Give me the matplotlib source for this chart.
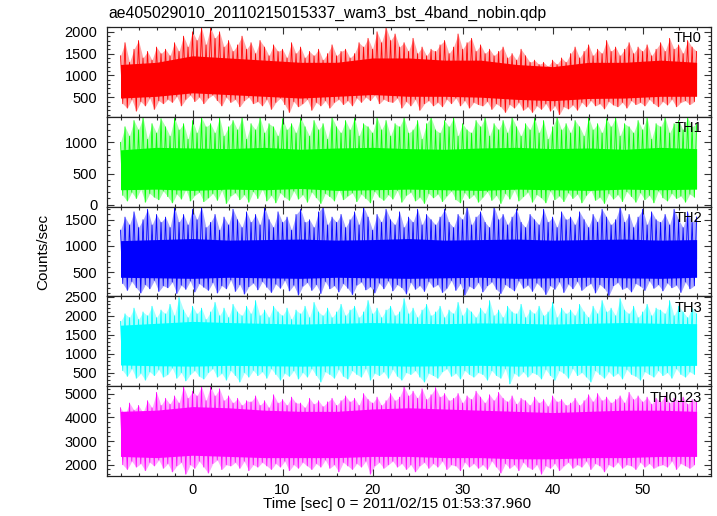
import matplotlib
matplotlib.use("Agg")
import matplotlib.pyplot as plt
import numpy as np
from matplotlib.ticker import MultipleLocator

plt.rcParams['font.family'] = ['Liberation Sans', 'DejaVu Sans']

title = "ae405029010_20110215015337_wam3_bst_4band_nobin.qdp"
xlabel = "Time [sec] 0 = 2011/02/15 01:53:37.960"
ylabel = "Counts/sec"
names = ["TH0", "TH1", "TH2", "TH3", "TH0123"]
colors = ["#ff0000", "#00ff00", "#0000ff", "#00ffff", "#ff00ff"]

# spike tops every 0.5 s, spike bottoms in between, solid core band every 4 s
t_hi = np.arange(-8, 56.01, 0.5)
t_lo = np.arange(-7.75, 56, 0.5)
t_core = np.arange(-8, 57, 4.0)

# TH0
hi0 = [1450, 1750, 1300, 1600, 1800, 1400, 1550, 1350, 1650, 1500,
       1600, 1450, 1750, 1550, 1900, 1650, 2000, 1800, 2100, 1700,
       2100, 1850, 2000, 1650, 1800, 1550, 1700, 1900, 1600, 1750,
       1500, 1800, 1650, 1450, 1700, 1550, 1600, 1400, 1750, 1500,
       1650, 1400, 1550, 1450, 1600, 1350, 1500, 1700, 1450, 1550,
       1600, 1400, 1500, 1750, 1650, 1850, 1600, 2000, 1750, 2100,
       1800, 1950, 1650, 1750, 1550, 1850, 1500, 1650, 1450, 1600,
       1550, 1700, 1800, 1500, 1650, 1950, 1600, 1750, 1850, 1550,
       1700, 1500, 1600, 1450, 1550, 1650, 1400, 1500, 1350, 1600,
       1450, 1300, 1350, 1250, 1300, 1200, 1350, 1250, 1400, 1300,
       1500, 1650, 1400, 1550, 1700, 1450, 1600, 1500, 1800, 1550,
       1650, 1450, 1600, 1750, 1500, 1650, 1550, 1700, 1450, 1600,
       1750, 1550, 1850, 1600, 1700, 1500, 1800, 1650, 1550]
lo0 = [350, 250, 450, 180, 400, 300, 480, 220, 420, 350,
       450, 380, 520, 300, 450, 550, 400, 500, 350, 480,
       550, 420, 300, 500, 380, 450, 280, 420, 500, 350,
       400, 300, 450, 220, 380, 480, 330, 150, 400, 280,
       350, 450, 200, 380, 300, 420, 250, 380, 450, 330,
       420, 300, 480, 380, 500, 420, 550, 350, 450, 400,
       380, 480, 250, 400, 300, 450, 200, 350, 420, 300,
       380, 280, 450, 350, 480, 300, 420, 250, 380, 330,
       300, 400, 220, 350, 280, 150, 330, 250, 380, 200,
       280, 150, 300, 220, 350, 180, 300, 100, 280, 230,
       320, 200, 380, 280, 420, 300, 350, 230, 400, 320,
       280, 380, 250, 420, 330, 380, 300, 450, 350, 280,
       400, 320, 450, 280, 380, 420, 330, 400]
top0 = [1250, 1300, 1450, 1400, 1350, 1300, 1300, 1400, 1400, 1350, 1350, 1250, 1200, 1300, 1300, 1350, 1300]
bot0 = [480, 520, 600, 560, 520, 480, 520, 560, 520, 520, 500, 450, 420, 470, 480, 520, 520]

# TH1
hi1 = [1000, 1250, 1100, 1350, 1200, 1400, 1050, 1300, 1150, 1380,
       1250, 1100, 1400, 1200, 1300, 1050, 1350, 1150, 1400, 1250,
       1300, 1150, 1400, 1100, 1250, 1350, 1200, 1400, 1050, 1300,
       1200, 1400, 1150, 1300, 1250, 1100, 1380, 1200, 1300, 1150,
       1400, 1250, 1100, 1350, 1200, 1300, 1050, 1400, 1250, 1150,
       1350, 1200, 1400, 1100, 1300, 1250, 1150, 1400, 1200, 1350,
       1100, 1300, 1250, 1400, 1150, 1200, 1350, 1050, 1300, 1400,
       1200, 1150, 1350, 1250, 1400, 1100, 1300, 1200, 1150, 1350,
       1250, 1400, 1100, 1300, 1200, 1350, 1150, 1400, 1250, 1100,
       1300, 1200, 1400, 1150, 1350, 1050, 1250, 1400, 1200, 1300,
       1150, 1350, 1250, 1100, 1400, 1200, 1300, 1150, 1380, 1250,
       1400, 1100, 1300, 1250, 1150, 1350, 1200, 1400, 1050, 1300,
       1250, 1400, 1150, 1300, 1350, 1200, 1400, 1250, 1300]
lo1 = [150, 60, 200, 100, 250, 40, 180, 120, 80, 220,
       130, 30, 170, 90, 240, 60, 150, 200, 50, 110,
       180, 70, 230, 20, 140, 190, 80, 160, 40, 210,
       100, 250, 60, 150, 30, 190, 120, 70, 220, 90,
       160, 40, 200, 110, 20, 180, 130, 60, 240, 80,
       140, 190, 50, 170, 100, 30, 210, 120, 70, 160,
       90, 230, 40, 150, 200, 60, 120, 20, 180, 110,
       170, 50, 140, 220, 80, 30, 190, 100, 160, 40,
       120, 210, 70, 150, 20, 180, 90, 240, 60, 130,
       200, 40, 160, 110, 30, 220, 80, 140, 50, 190,
       100, 170, 30, 150, 230, 70, 120, 20, 180, 90,
       160, 50, 210, 130, 40, 190, 80, 150, 30, 220,
       110, 60, 180, 100, 140, 40, 170, 120]
top1 = [880, 920, 910, 900, 920, 890, 910, 920, 900, 890, 910, 920, 900, 910, 890, 920, 900]
bot1 = [240, 250, 230, 250, 240, 260, 230, 240, 250, 240, 230, 250, 240, 230, 250, 240, 250]

# TH2
hi2 = [1300, 1550, 1400, 1650, 1350, 1500, 1700, 1400, 1600, 1450,
       1550, 1350, 1750, 1450, 1600, 1400, 1700, 1500, 1750, 1350,
       1450, 1600, 1300, 1550, 1400, 1700, 1500, 1350, 1650, 1450,
       1600, 1400, 1750, 1500, 1350, 1650, 1450, 1550, 1300, 1600,
       1700, 1450, 1500, 1350, 1650, 1750, 1400, 1550, 1450, 1600,
       1350, 1500, 1650, 1400, 1750, 1550, 1300, 1600, 1450, 1700,
       1500, 1400, 1650, 1350, 1550, 1450, 1700, 1400, 1600, 1500,
       1400, 1550, 1700, 1450, 1350, 1600, 1500, 1750, 1400, 1550,
       1650, 1450, 1350, 1750, 1500, 1600, 1400, 1550, 1700, 1450,
       1350, 1600, 1500, 1400, 1700, 1450, 1550, 1350, 1650, 1500,
       1550, 1400, 1650, 1500, 1350, 1600, 1450, 1700, 1550, 1400,
       1500, 1750, 1450, 1600, 1350, 1550, 1700, 1400, 1650, 1500,
       1450, 1600, 1400, 1700, 1500, 1350, 1650, 1450, 1550]
lo2 = [280, 150, 320, 200, 100, 260, 180, 340, 130, 240,
       200, 310, 90, 250, 170, 330, 120, 280, 210, 150,
       300, 100, 240, 180, 350, 130, 260, 80, 220, 290,
       160, 320, 210, 110, 270, 190, 340, 140, 250, 60,
       230, 300, 150, 260, 90, 320, 180, 240, 120, 280,
       190, 70, 250, 310, 160, 220, 100, 290, 180, 330,
       140, 260, 200, 80, 300, 170, 240, 130, 320, 210,
       260, 110, 190, 340, 150, 280, 60, 230, 180, 300,
       120, 240, 310, 170, 90, 260, 200, 140, 330, 190,
       250, 130, 290, 210, 70, 240, 170, 310, 110, 270,
       180, 320, 150, 230, 280, 100, 260, 190, 50, 240,
       300, 170, 210, 120, 280, 230, 150, 330, 190, 260,
       140, 290, 200, 250, 110, 310, 180, 240]
top2 = [1100, 1120, 1140, 1110, 1120, 1130, 1110, 1120, 1140, 1110, 1120, 1130, 1110, 1120, 1130, 1110, 1120]
bot2 = [400, 390, 380, 400, 390, 380, 400, 390, 380, 390, 400, 380, 390, 400, 390, 380, 400]

# TH3
hi3 = [1850, 2050, 1950, 2200, 1900, 2100, 2000, 2250, 1950, 2150,
       2050, 2300, 2000, 2480, 2150, 1950, 2250, 2050, 2200, 1900,
       2100, 2350, 2000, 2200, 1950, 2300, 2100, 2000, 2250, 2050,
       2400, 2000, 2150, 1950, 2250, 2100, 2000, 2200, 1900, 2150,
       2050, 2250, 1950, 2350, 2100, 2000, 2200, 1950, 2100, 2300,
       2000, 2150, 2250, 1950, 2100, 2400, 2050, 2200, 1950, 2150,
       2250, 2000, 2100, 2450, 2050, 2200, 1950, 2150, 2300, 2000,
       2100, 2250, 1950, 2150, 2050, 2350, 2000, 2200, 2100, 1950,
       2200, 2050, 2400, 2000, 2150, 1950, 2250, 2100, 2050, 2300,
       1950, 2150, 2050, 2250, 2000, 2100, 2350, 1950, 2200, 2050,
       2150, 2000, 2300, 2100, 1950, 2250, 2050, 2400, 2100, 2200,
       2000, 2450, 2150, 2050, 2250, 1950, 2100, 2300, 2000, 2200,
       2150, 2050, 2400, 2000, 2250, 2100, 1950, 2200, 2050]
lo3 = [550, 400, 600, 350, 480, 300, 520, 420, 580, 380,
       450, 620, 350, 500, 280, 450, 550, 400, 330, 500,
       600, 380, 480, 300, 550, 420, 250, 500, 380, 560,
       420, 520, 350, 600, 450, 300, 480, 400, 550, 330,
       500, 380, 600, 420, 250, 520, 450, 350, 580, 400,
       330, 550, 450, 380, 600, 300, 480, 420, 520, 350,
       580, 400, 300, 500, 450, 550, 380, 250, 480, 420,
       350, 520, 600, 400, 480, 330, 550, 450, 380, 500,
       450, 300, 550, 420, 350, 600, 200, 480, 400, 520,
       380, 500, 450, 330, 580, 420, 300, 550, 480, 350,
       600, 420, 500, 380, 250, 550, 450, 350, 520, 400,
       480, 330, 580, 450, 400, 300, 520, 450, 380, 550,
       420, 500, 350, 600, 450, 380, 520, 450]
top3 = [1750, 1800, 1850, 1820, 1800, 1780, 1800, 1820, 1800, 1790, 1810, 1800, 1780, 1800, 1820, 1800, 1790]
bot3 = [700, 680, 670, 690, 680, 670, 680, 690, 670, 680, 690, 670, 680, 690, 670, 680, 690]

# TH0123
hi4 = [4400, 4100, 4600, 4300, 4500, 4200, 4700, 4400, 5050, 4500,
       4800, 4550, 4900, 4600, 5300, 4800, 5100, 4900, 5300, 4700,
       5300, 4900, 5200, 4700, 4900, 4600, 4800, 4500, 4700, 4650,
       4900, 4500, 4700, 4400, 4950, 4600, 4750, 4500, 4850, 4600,
       4600, 4400, 4800, 4550, 4700, 4450, 4650, 4800, 4500, 4700,
       4900, 4650, 4800, 4500, 5000, 4750, 4600, 4850, 4500, 4700,
       5000, 4700, 4850, 5300, 4900, 5100, 4800, 5200, 4750, 4950,
       5250, 4850, 5000, 4700, 4800, 5000, 4600, 4900, 4750, 5100,
       4850, 4600, 4950, 4700, 5050, 4800, 4650, 4900, 4550, 4800,
       4700, 4500, 4850, 4600, 4750, 4450, 4900, 4650, 4750, 4500,
       4600, 4800, 4500, 4700, 4950, 4650, 5000, 4700, 4850, 4600,
       4750, 4900, 4600, 5050, 4750, 4900, 4650, 4850, 4550, 4800,
       4650, 4900, 4600, 4800, 4700, 4850, 4550, 4750, 4650]
lo4 = [2000, 1800, 2150, 1900, 2050, 1750, 2100, 1950, 2200, 1850,
       2050, 1700, 1950, 2100, 1600, 2000, 1850, 2150, 1900, 1650,
       2050, 2200, 1800, 2000, 1950, 2100, 1850, 2150, 1750, 2000,
       1900, 2100, 1950, 1800, 2050, 1900, 2150, 1750, 2000, 1850,
       2100, 1950, 1800, 2050, 1900, 2200, 1850, 2000, 1700, 2100,
       1950, 1800, 2050, 1900, 2150, 1600, 1950, 2100, 1850, 2000,
       2150, 1900, 2050, 1800, 2000, 1700, 1950, 2100, 1850, 2050,
       1900, 2150, 1800, 2000, 1950, 1750, 2100, 1900, 2050, 1850,
       2000, 1800, 2150, 1900, 1650, 2050, 1850, 2000, 1750, 2100,
       1900, 1800, 2000, 1600, 1950, 1850, 2050, 1750, 1950, 2100,
       1850, 2000, 1900, 2150, 1800, 2050, 1950, 1700, 2000, 1900,
       2100, 1850, 2000, 1950, 1800, 2100, 1900, 2050, 1850, 1950,
       2000, 1900, 2150, 1800, 2050, 1950, 1850, 2000]
top4 = [4250, 4300, 4450, 4400, 4300, 4250, 4250, 4350, 4400, 4350, 4300, 4250, 4200, 4250, 4300, 4300, 4250]
bot4 = [2350, 2300, 2400, 2350, 2300, 2300, 2300, 2350, 2350, 2300, 2300, 2250, 2250, 2300, 2300, 2350, 2350]

his = [hi0, hi1, hi2, hi3, hi4]
los = [lo0, lo1, lo2, lo3, lo4]
tops = [top0, top1, top2, top3, top4]
bots = [bot0, bot1, bot2, bot3, bot4]
ylims = [(50, 2110), (-30, 1410), (35, 1750), (140, 2510), (1525, 5310)]
ymajor = [500, 500, 500, 500, 1000]

fig, axes = plt.subplots(5, 1, sharex=True, figsize=(7.17, 5.16), dpi=100)
fig.subplots_adjust(left=107/717, right=711/717, top=1-27/516, bottom=1-476/516, hspace=0)

for i, ax in enumerate(axes):
    c = colors[i]
    mid = (np.mean(tops[i]) + np.mean(bots[i])) / 2
    # zigzag between spike tops and bottoms
    xs = np.empty(len(t_hi) + len(t_lo))
    ys = np.empty_like(xs)
    xs[0::2] = t_hi
    xs[1::2] = t_lo
    ys[0::2] = his[i]
    ys[1::2] = los[i]
    # light fringe under the spike tips, solid core, then the spikes
    ax.fill_between(t_hi, mid, his[i], color=c, alpha=0.35, lw=0)
    ax.fill_between(t_lo, los[i], mid, color=c, alpha=0.35, lw=0)
    ax.fill_between(t_core, bots[i], tops[i], color=c, lw=0)
    ax.plot(xs, ys, color=c, lw=0.6)

    ax.set_ylim(*ylims[i])
    ax.yaxis.set_major_locator(MultipleLocator(ymajor[i]))
    ax.yaxis.set_minor_locator(MultipleLocator(ymajor[i] / 5))
    ax.xaxis.set_major_locator(MultipleLocator(10))
    ax.xaxis.set_minor_locator(MultipleLocator(2))
    ax.tick_params(which='both', direction='in', top=True, right=True,
                   labelsize=10.5, width=0.8, color='#333333')
    ax.tick_params(which='major', length=5, pad=7)
    ax.tick_params(which='minor', length=2.5)
    for sp in ax.spines.values():
        sp.set_linewidth(0.9)
        sp.set_color('#222222')
        sp.set_zorder(3)
    ax.text(0.985, 0.95, names[i], transform=ax.transAxes, ha='right', va='top',
            fontsize=10.5, zorder=4)

axes[-1].set_xlim(-9.5, 57.6)
axes[-1].tick_params(axis='x', pad=5)

fig.text(108/717, 1-13/516, title, ha='left', va='center', fontsize=11.3)
fig.text(397/717, 1-504/516, xlabel, ha='center', va='center', fontsize=11)
fig.text(43/717, 1-252/516, ylabel, ha='center', va='center', rotation=90, fontsize=11)

fig.savefig("out.png", dpi=100)
